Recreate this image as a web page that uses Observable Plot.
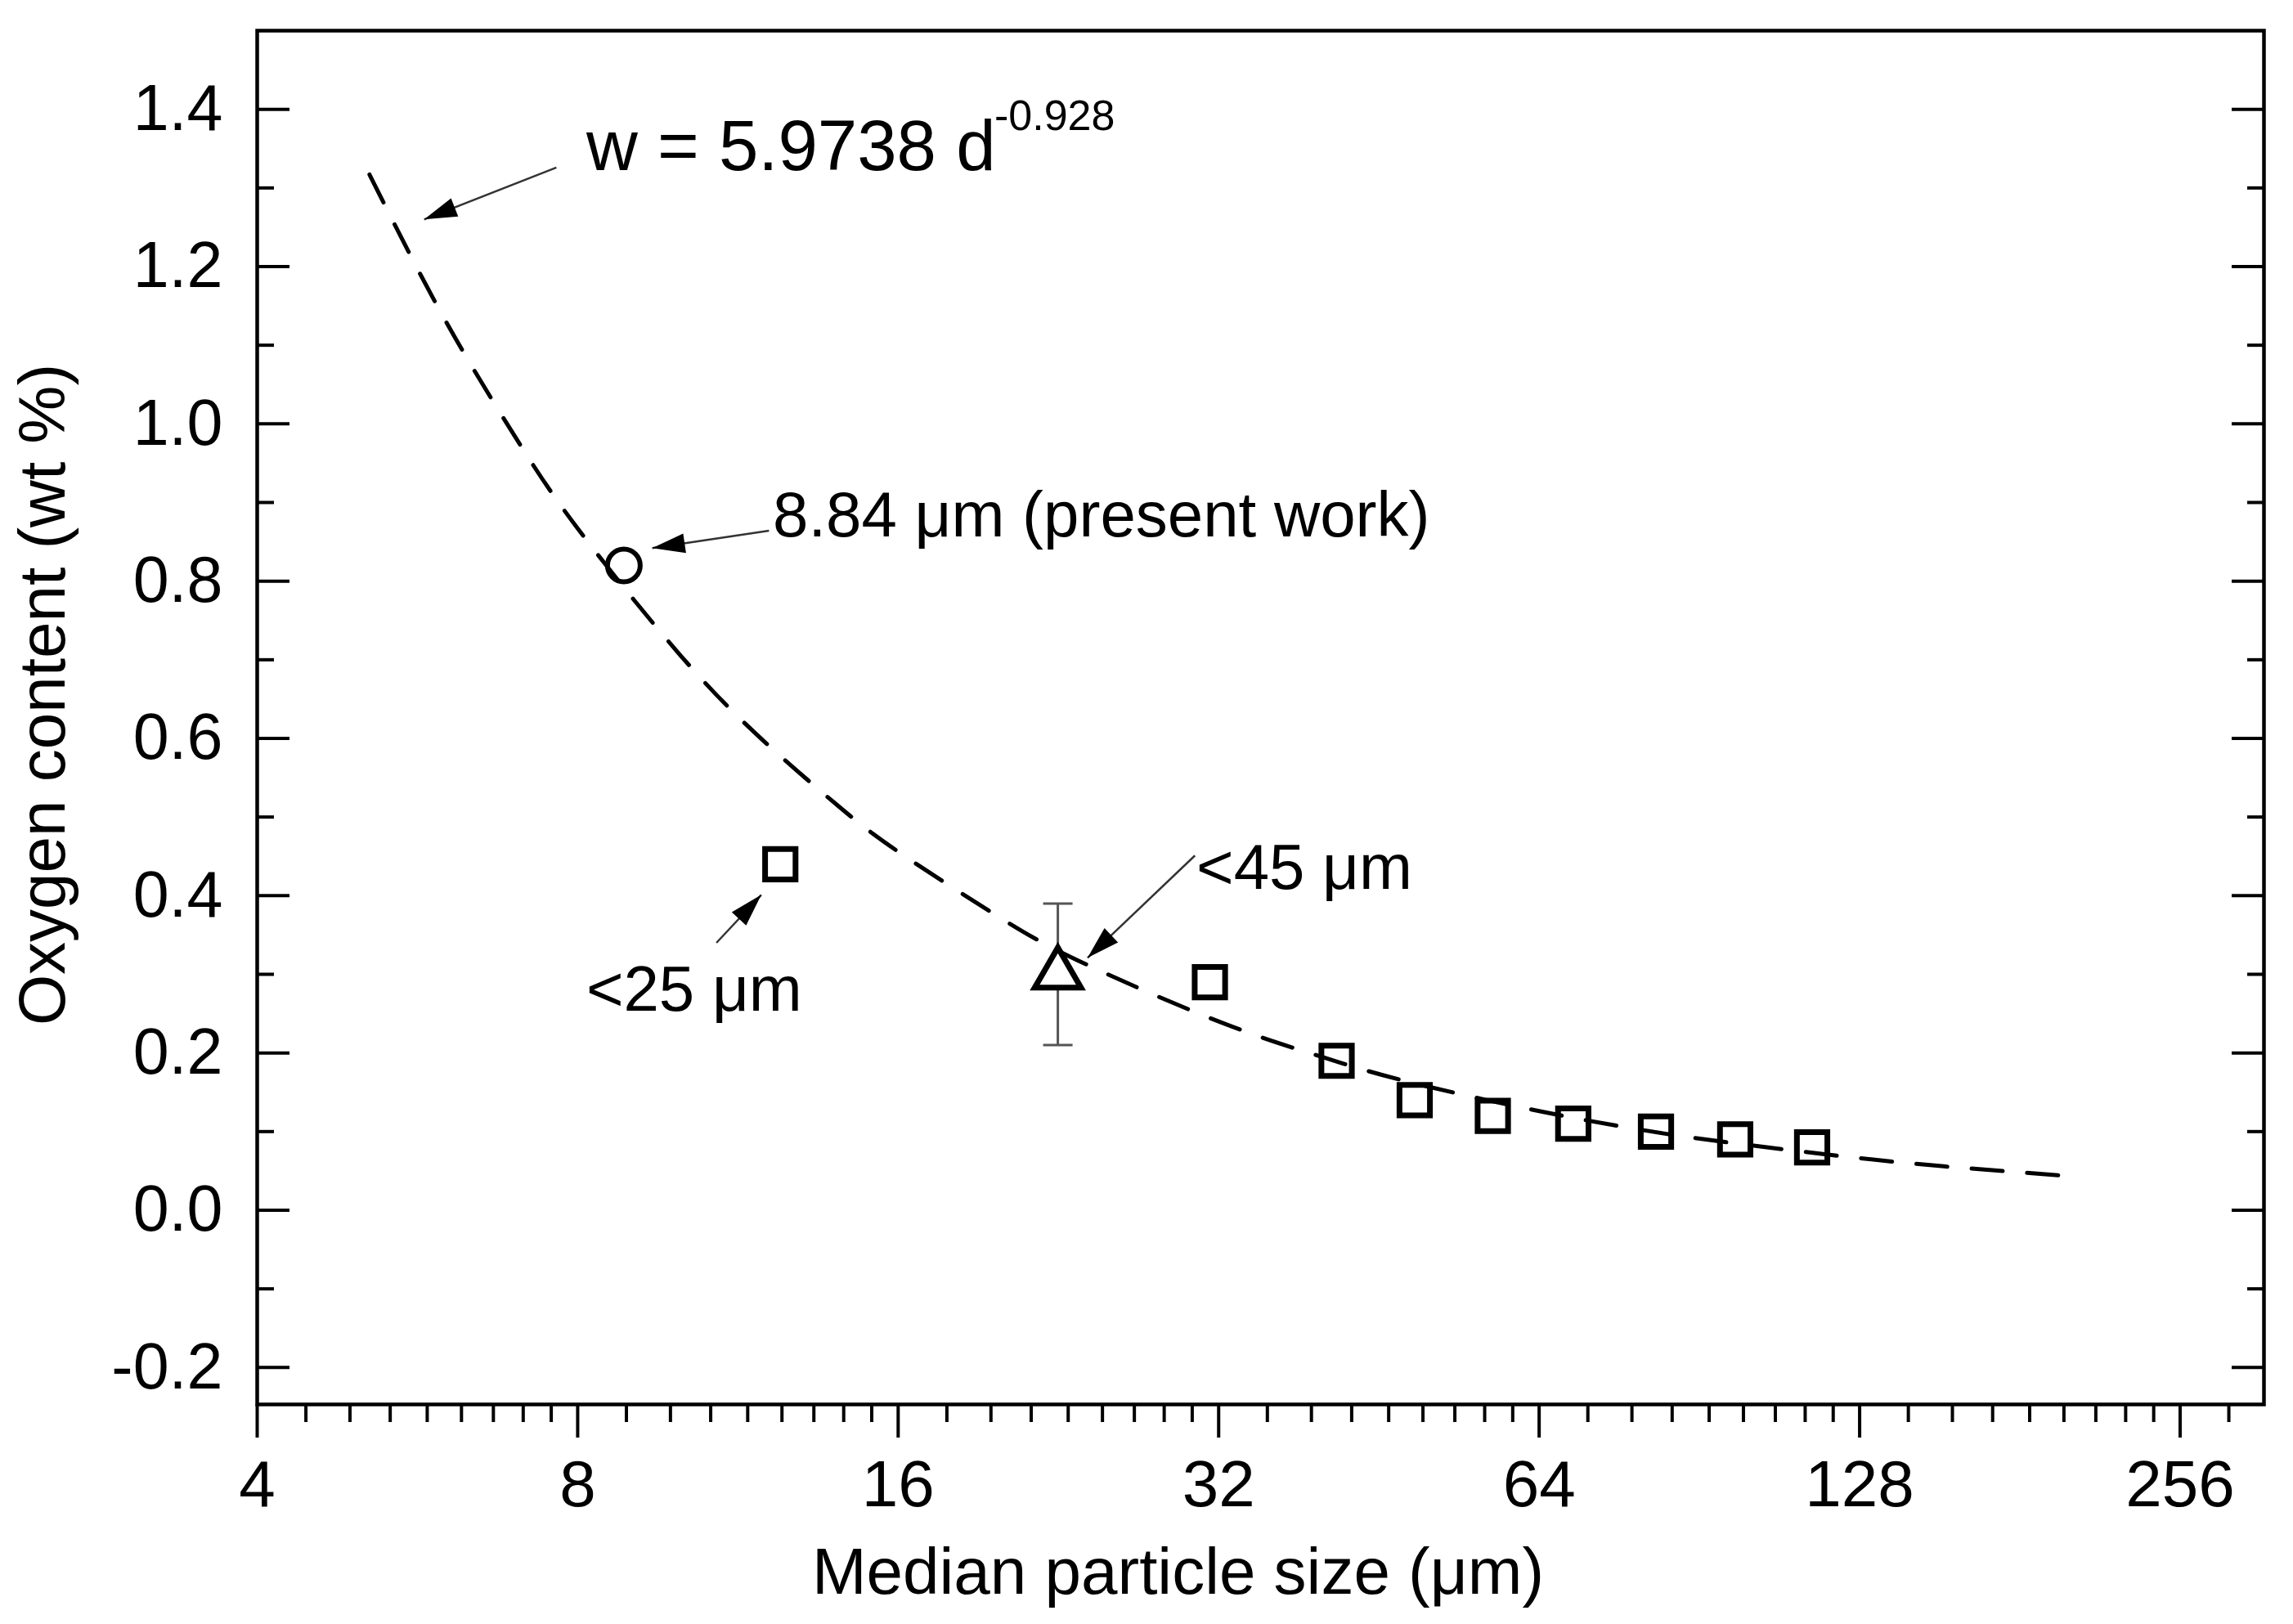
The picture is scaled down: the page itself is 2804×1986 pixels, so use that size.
<!DOCTYPE html>
<html><head><meta charset="utf-8">
<script src="https://cdn.jsdelivr.net/npm/d3@7"></script>
<script src="https://cdn.jsdelivr.net/npm/@observablehq/plot@0.6"></script>
<style>body{margin:0;background:#fff}</style>
</head><body><div id="chart"></div>
<script>
// ---- data ----
const squareSize = [12.4, 31.4, 41.3, 48.9, 57.9, 68.9, 82.4, 97.8, 115.5];
const squareOxygen = [0.44, 0.29, 0.19, 0.14, 0.12, 0.11, 0.10, 0.09, 0.08];
const presentSize = [8.84];
const presentOxygen = [0.82];
const triSize = [22.6];
const triOxygen = [0.30];
const triLow = [0.21];
const triHigh = [0.39];
// fit curve w = 5.9738 d^-0.928 as drawn
const fitSize = [5.1, 6, 7, 8, 10, 12, 14, 16, 20, 24, 32, 40, 48, 64, 80, 96, 128, 160, 200];
const fitOxygen = [1.317, 1.133, 0.982, 0.867, 0.705, 0.595, 0.516, 0.456, 0.371, 0.313, 0.240, 0.195, 0.164, 0.126, 0.102, 0.0864, 0.0662, 0.0538, 0.0437];
// axes
const xTicks = [4, 8, 16, 32, 64, 128, 256];
const yTicks = [-0.2, 0.0, 0.2, 0.4, 0.6, 0.8, 1.0, 1.2, 1.4];
const yMinor = [-0.1, 0.1, 0.3, 0.5, 0.7, 0.9, 1.1, 1.3];
const xMinor = xTicks.flatMap(b => d3.range(1, 9).map(k => b * (1 + k / 9))).filter(v => v < 306);
// annotations
const annoText = ["w = 5.9738 d", "8.84 μm (present work)", "<25 μm", "<45 μm"];
const annoX = [8.15, 12.2, 8.15, 30.5];
const annoY = [1.352, 0.883, 0.280, 0.435];
const supText = ["-0.928"];
const supX = [19.7];
const supY = [1.391];
const arrowX1 = [7.64, 12.1, 10.8, 30.4];
const arrowY1 = [1.326, 0.864, 0.340, 0.451];
const arrowX2 = [5.74, 9.4, 11.9, 24.1];
const arrowY2 = [1.260, 0.842, 0.401, 0.321];

const squares = squareSize.map((d, i) => ({d, w: squareOxygen[i]}));
const present = presentSize.map((d, i) => ({d, w: presentOxygen[i]}));
const tri = triSize.map((d, i) => ({d, w: triOxygen[i], lo: triLow[i], hi: triHigh[i]}));
const fit = fitSize.map((d, i) => ({d, w: fitOxygen[i]}));
const annos = annoText.map((t, i) => ({t, d: annoX[i], w: annoY[i]}));
const sups = supText.map((t, i) => ({t, d: supX[i], w: supY[i]}));
const arrows = arrowX1.map((x1, i) => ({x1, y1: arrowY1[i], x2: arrowX2[i], y2: arrowY2[i]}));

const hbar = {draw(ctx, size) { const r = Math.sqrt(size / Math.PI); ctx.moveTo(-r, 0); ctx.lineTo(r, 0); }};
const font = "'Liberation Sans', Arial, Helvetica, sans-serif";

const chart = Plot.plot({
  width: 2804, height: 1986,
  marginLeft: 314, marginRight: 36, marginTop: 37, marginBottom: 269,
  style: {fontFamily: font, background: "#fff", color: "#000"},
  x: {type: "log", base: 2, domain: [4, 306.9]},
  y: {domain: [-0.247, 1.5]},
  marks: [
    // axes ticks
    Plot.axisX({ticks: xTicks, tickSize: 41, strokeWidth: 4, tickPadding: 27, fontSize: 80, tickFormat: d => String(d), label: null}),
    Plot.axisX({ticks: xMinor, tickSize: 22, strokeWidth: 4, tickFormat: () => "", label: null}),
    Plot.axisY({anchor: "left", ticks: yTicks, tickSize: -40, strokeWidth: 4, tickFormat: () => "", label: null}),
    Plot.axisY({anchor: "left", ticks: yMinor, tickSize: -21, strokeWidth: 4, tickFormat: () => "", label: null}),
    Plot.axisY({anchor: "left", ticks: yTicks, tickSize: 0, tickPadding: 42, fontSize: 79, tickFormat: d => d.toFixed(1), label: null}),
    Plot.axisY({anchor: "right", ticks: yTicks, tickSize: -40, strokeWidth: 4, tickFormat: () => "", label: null}),
    Plot.axisY({anchor: "right", ticks: yMinor, tickSize: -21, strokeWidth: 4, tickFormat: () => "", label: null}),
    Plot.frame({stroke: "#000", strokeWidth: 4.5}),
    // axis titles
    Plot.text(["Oxygen content (wt %)"], {frameAnchor: "left", text: d => d, textAnchor: "middle", lineAnchor: "middle", rotate: -90, dx: -261, dy: -28, fontSize: 80, fill: "#000"}),
    Plot.text(["Median particle size (μm)"], {frameAnchor: "bottom", text: d => d, textAnchor: "middle", lineAnchor: "middle", dx: -101, dy: 206, fontSize: 80, fill: "#000"}),
    // error bar
    Plot.ruleX(tri, {x: "d", y1: "lo", y2: "hi", stroke: "#555", strokeWidth: 3}),
    Plot.dot(tri, {x: "d", y: "lo", symbol: hbar, r: 18, stroke: "#555", strokeWidth: 3}),
    Plot.dot(tri, {x: "d", y: "hi", symbol: hbar, r: 18, stroke: "#555", strokeWidth: 3}),
    Plot.dot(tri, {x: "d", y: "w", symbol: "triangle", r: 21, stroke: "#000", fill: "#fff", strokeWidth: 7}),
    // fit curve
    Plot.line(fit, {x: "d", y: "w", stroke: "#000", strokeWidth: 5, strokeDasharray: "38,30", curve: "natural"}),
    // data markers
    Plot.dot(squares, {x: "d", y: "w", symbol: "square", r: 21, stroke: "#000", fill: "none", strokeWidth: 7}),
    Plot.dot(present, {x: "d", y: "w", symbol: "circle", r: 20, stroke: "#000", fill: "none", strokeWidth: 6}),
    // annotations
    Plot.link(arrows, {x1: "x1", y1: "y1", x2: "x2", y2: "y2", stroke: "#333", strokeWidth: 2.5, className: "annoarrow"}),
    Plot.text(annos, {x: "d", y: "w", text: "t", textAnchor: "start", lineAnchor: "middle", fontSize: d => d.t.startsWith("w") ? 87 : 78, fill: "#000"}),
    Plot.text(sups, {x: "d", y: "w", text: "t", textAnchor: "start", lineAnchor: "middle", fontSize: 52, fill: "#000"})
  ]
});

// filled arrowheads on annotation links
const svg = d3.select(chart);
const defs = svg.insert("defs", ":first-child");
defs.append("marker").attr("id", "ahead")
  .attr("viewBox", "-44 -14 46 28").attr("markerWidth", 46).attr("markerHeight", 28)
  .attr("markerUnits", "userSpaceOnUse").attr("refX", 0).attr("refY", 0).attr("orient", "auto")
  .append("path").attr("d", "M0,0L-40,-12L-40,12Z").attr("fill", "#000");
svg.selectAll(".annoarrow path").attr("marker-end", "url(#ahead)");

document.getElementById("chart").append(chart);
</script>
</body></html>
